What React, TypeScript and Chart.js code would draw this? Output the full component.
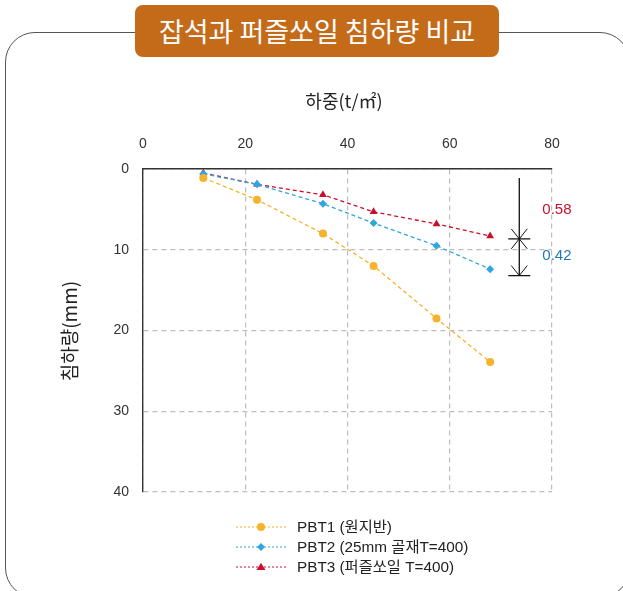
import React, { useEffect, useRef } from "react";
import { Chart, registerables } from "chart.js";

Chart.register(...registerables);

// ---- data ----
const loads = [11.8, 22.3, 35.2, 45.1, 57.4, 67.9];
const pbt1 = [1.1, 3.8, 8.0, 12.0, 18.5, 23.9];
const pbt2 = [0.6, 1.9, 4.3, 6.7, 9.5, 12.4];
const pbt3 = [0.5, 1.9, 3.2, 5.3, 6.8, 8.3];
const seriesNames = ["PBT1 (원지반)", "PBT2 (25mm 골재T=400)", "PBT3 (퍼즐쏘일 T=400)"];
const seriesColors = ["#F6B22A", "#2FA6DF", "#C8102E"];
const seriesMarkers = ["circle", "rectRot", "triangle"];
const xTickStep = 20;
const yTickStep = 10;
const xRange = [0, 80];
const yRange = [0, 40];

// annotation (data units)
const markLoad = 73.6;
const markTop = 1.1;
const markMid = 8.65;
const markBottom = 13.2;
const diffTexts = ["0.58", "0.42"];
const diffLoad = 78.1;
const diffSettle = [5.07, 10.7];
const diffColors = ["#C8102E", "#1F77B8"];

const FONT = "'Noto Sans CJK KR', 'Noto Sans', sans-serif";
const LFONT = "'Liberation Sans', 'Noto Sans CJK KR', sans-serif";

function drawMarker(ctx: CanvasRenderingContext2D, style: string, x: number, y: number, r: number, color: string) {
  ctx.save();
  ctx.fillStyle = color;
  ctx.beginPath();
  if (style === "circle") {
    ctx.arc(x, y, r, 0, Math.PI * 2);
  } else if (style === "rectRot") {
    ctx.moveTo(x, y - r);
    ctx.lineTo(x + r, y);
    ctx.lineTo(x, y + r);
    ctx.lineTo(x - r, y);
    ctx.closePath();
  } else {
    const h = r * 1.6;
    ctx.moveTo(x, y - h * 0.6);
    ctx.lineTo(x + r, y + h * 0.4);
    ctx.lineTo(x - r, y + h * 0.4);
    ctx.closePath();
  }
  ctx.fill();
  ctx.restore();
}

const overlayPlugin = {
  id: "overlay",
  afterDatasetsDraw(chart: any) {
    const ctx: CanvasRenderingContext2D = chart.ctx;
    const xs = chart.scales.x;
    const ys = chart.scales.y;
    const x = xs.getPixelForValue(markLoad);
    const yT = ys.getPixelForValue(markTop);
    const yM = ys.getPixelForValue(markMid);
    const yB = ys.getPixelForValue(markBottom);
    ctx.save();
    ctx.strokeStyle = "#111";
    ctx.lineWidth = 1.3;
    ctx.setLineDash([]);
    ctx.beginPath();
    ctx.moveTo(x, yT);
    ctx.lineTo(x, yB);
    ctx.moveTo(x - 11, yM);
    ctx.lineTo(x + 11, yM);
    ctx.moveTo(x - 11, yB);
    ctx.lineTo(x + 11, yB);
    ctx.stroke();
    ctx.lineWidth = 1;
    ctx.beginPath();
    ctx.moveTo(x - 8, yM - 10);
    ctx.lineTo(x, yM);
    ctx.lineTo(x + 8, yM - 10);
    ctx.moveTo(x - 8, yM + 10);
    ctx.lineTo(x, yM);
    ctx.lineTo(x + 8, yM + 10);
    ctx.moveTo(x - 8, yB - 10);
    ctx.lineTo(x, yB);
    ctx.lineTo(x + 8, yB - 10);
    ctx.stroke();

    ctx.font = `15px ${LFONT}`;
    ctx.textAlign = "left";
    ctx.textBaseline = "middle";
    diffTexts.forEach((t, i) => {
      ctx.fillStyle = diffColors[i];
      ctx.fillText(t, xs.getPixelForValue(diffLoad), ys.getPixelForValue(diffSettle[i]));
    });

    // legend
    const rowsY = [527, 547, 567];
    seriesNames.forEach((name, i) => {
      const ly = rowsY[i];
      ctx.strokeStyle = seriesColors[i];
      ctx.lineWidth = 1.2;
      ctx.setLineDash([2, 2]);
      ctx.beginPath();
      ctx.moveTo(236, ly);
      ctx.lineTo(287, ly);
      ctx.stroke();
      ctx.setLineDash([]);
      drawMarker(ctx, seriesMarkers[i], 261, ly, i === 2 ? 4.5 : 4, seriesColors[i]);
      ctx.fillStyle = "#222";
      ctx.font = `15.3px ${LFONT}`;
      ctx.textAlign = "left";
      ctx.textBaseline = "middle";
      ctx.fillText(name, 297, ly + 1);
    });
    ctx.restore();
  },
};

export default function App() {
  const ref = useRef<HTMLCanvasElement | null>(null);
  useEffect(() => {
    if (!ref.current) return;
    const series = [pbt1, pbt2, pbt3];
    const chart = new Chart(ref.current, {
      type: "line",
      data: {
        datasets: series.map((vals, i) => ({
          label: seriesNames[i],
          data: loads.map((l, j) => ({ x: l, y: vals[j] })),
          borderColor: seriesColors[i],
          backgroundColor: seriesColors[i],
          borderWidth: 1.3,
          borderDash: [4, 3],
          pointStyle: seriesMarkers[i] as any,
          pointRadius: i === 2 ? 4.5 : 4,
          pointBorderWidth: 0,
          pointBackgroundColor: seriesColors[i],
          fill: false,
          tension: 0,
        })),
      },
      options: {
        animation: false,
        responsive: true,
        maintainAspectRatio: false,
        layout: { padding: { left: 0, top: 0, right: 71, bottom: 99 } },
        plugins: { legend: { display: false }, tooltip: { enabled: false } },
        scales: {
          x: {
            type: "linear",
            position: "top",
            min: xRange[0],
            max: xRange[1],
            ticks: { stepSize: xTickStep, color: "#333", font: { size: 14, family: LFONT }, padding: 16 },
            grid: { color: "#BDBDBD", lineWidth: 1.2, drawTicks: false },
            border: { color: "#333", width: 1.4, dash: [5, 4] },
            afterFit: (s: any) => { s.height = 169; },
          },
          y: {
            type: "linear",
            reverse: true,
            min: yRange[0],
            max: yRange[1],
            ticks: { stepSize: yTickStep, color: "#333", font: { size: 14, family: LFONT }, padding: 14 },
            grid: { color: "#BDBDBD", lineWidth: 1.2, drawTicks: false },
            border: { color: "#333", width: 1.4, dash: [5, 4] },
            afterFit: (s: any) => { s.width = 143; },
          },
        },
      },
      plugins: [overlayPlugin],
    });
    return () => chart.destroy();
  }, []);

  return (
    <div style={{ position: "absolute", left: 0, top: 0, width: 623, height: 591, overflow: "hidden", background: "#fff", fontFamily: FONT }}>
      <div style={{ position: "absolute", left: 5, top: 32, width: 625, height: 566, border: "1.3px solid #555", borderRadius: 30, boxSizing: "border-box" }} />
      <div style={{ position: "absolute", left: 0, top: 0, width: 623, height: 591 }}>
        <canvas ref={ref} />
      </div>
      <div style={{ position: "absolute", left: 135, top: 5, width: 364, height: 52, background: "#C46B1A", borderRadius: 8, color: "#fff", fontSize: 27, lineHeight: "52px", textAlign: "center", whiteSpace: "nowrap" }}>
        잡석과 퍼즐쏘일 침하량 비교
      </div>
      <div style={{ position: "absolute", left: 244, top: 88, width: 200, textAlign: "center", fontSize: 18, lineHeight: "24px", color: "#222" }}>
        하중(t/㎡)
      </div>
      <div style={{ position: "absolute", left: 69, top: 331, width: 0, height: 0 }}>
        <div style={{ position: "absolute", left: -100, top: -12, width: 200, textAlign: "center", fontSize: 19, lineHeight: "24px", color: "#222", transform: "rotate(-90deg)", whiteSpace: "nowrap" }}>
          침하량(mm)
        </div>
      </div>
    </div>
  );
}
